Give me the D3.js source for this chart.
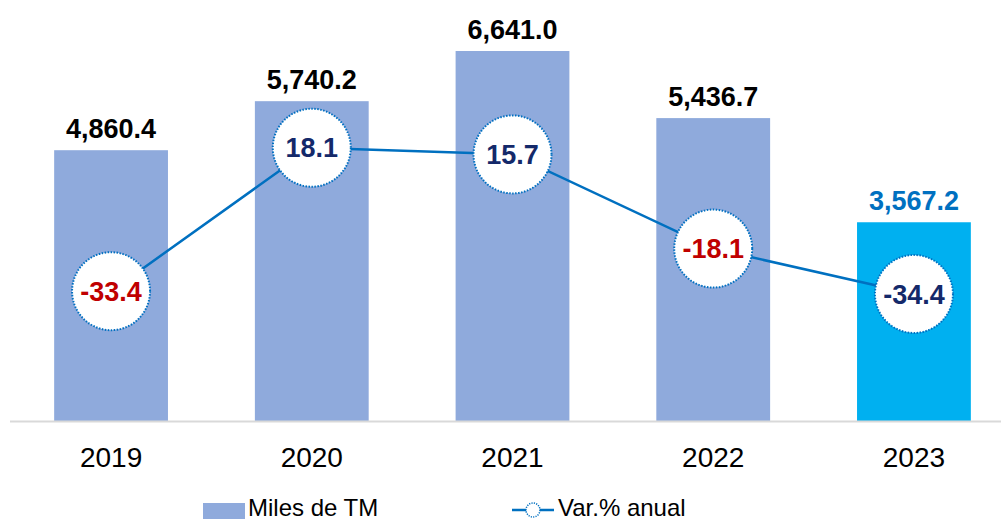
<!DOCTYPE html>
<html>
<head>
<meta charset="utf-8">
<script src="https://cdn.jsdelivr.net/npm/d3@7"></script>
<style>
  html, body { margin: 0; padding: 0; background: #fff; }
  svg { display: block; font-family: Arial, "Liberation Sans", sans-serif; }
</style>
</head>
<body>
<div id="chart"></div>
<script>
// chart data
const years = ['2019', '2020', '2021', '2022', '2023'];
const milesTM = [4860.4, 5740.2, 6641.0, 5436.7, 3567.2];
const varAnual = [-33.4, 18.1, 15.7, -18.1, -34.4];

const width = 1001;
const height = 522;
const baseY = 421;
const topY = 31;

const svg = d3.select('#chart')
  .append('svg')
  .attr('width', width)
  .attr('height', height);

const x = d3.scaleBand().domain(years).range([10, 1015]).paddingInner(0.433).paddingOuter(0.22);
const y = d3.scaleLinear().domain([0, 7000]).range([baseY, topY]);
const y2 = d3.scaleLinear().domain([-80, 60]).range([baseY, topY]);

const fmt = d3.format(',.1f');
const isLast = (i) => i === years.length - 1;

// bars
svg.selectAll('rect.bar')
  .data(milesTM)
  .join('rect')
  .attr('class', 'bar')
  .attr('x', (d, i) => x(years[i]))
  .attr('y', d => y(d))
  .attr('width', x.bandwidth())
  .attr('height', d => y(0) - y(d))
  .attr('fill', (d, i) => isLast(i) ? '#00B0F0' : '#8FAADC');

// axis line
svg.append('line')
  .attr('x1', 10).attr('x2', width)
  .attr('y1', baseY + 0.5).attr('y2', baseY + 0.5)
  .attr('stroke', '#D9D9D9')
  .attr('stroke-width', 2);

// year labels
const xAxis = svg.append('g')
  .attr('transform', `translate(0, ${baseY})`)
  .call(d3.axisBottom(x).tickSize(0).tickPadding(0));
xAxis.select('.domain').remove();
xAxis.selectAll('text')
  .attr('dy', 0)
  .attr('y', 46)
  .attr('fill', '#000')
  .attr('font-size', '28px')
  .attr('font-family', 'Arial, "Liberation Sans", sans-serif');

// bar value labels
svg.selectAll('text.val')
  .data(milesTM)
  .join('text')
  .attr('class', 'val')
  .attr('x', (d, i) => x(years[i]) + x.bandwidth() / 2)
  .attr('y', d => y(d) - 12)
  .attr('text-anchor', 'middle')
  .attr('font-size', '27px')
  .attr('font-weight', 'bold')
  .attr('fill', (d, i) => isLast(i) ? '#0070C0' : '#000')
  .text(d => fmt(d));

// variation line
const cx = (i) => x(years[i]) + x.bandwidth() / 2;
const line = d3.line()
  .x((d, i) => cx(i))
  .y(d => y2(d));

svg.append('path')
  .datum(varAnual)
  .attr('fill', 'none')
  .attr('stroke', '#0070C0')
  .attr('stroke-width', 2.5)
  .attr('d', line);

// circle markers with labels
const marks = svg.selectAll('g.mk')
  .data(varAnual)
  .join('g')
  .attr('class', 'mk')
  .attr('transform', (d, i) => `translate(${cx(i)}, ${y2(d)})`);

marks.append('circle')
  .attr('r', 39)
  .attr('fill', '#fff')
  .attr('stroke', '#0070C0')
  .attr('stroke-width', 2)
  .attr('stroke-dasharray', '1.5,1.5');

marks.append('text')
  .attr('text-anchor', 'middle')
  .attr('dy', '0.36em')
  .attr('font-size', '27px')
  .attr('font-weight', 'bold')
  .attr('fill', (d, i) => (d < 0 && !isLast(i)) ? '#C00000' : '#14296A')
  .text(d => d.toFixed(1));

// legend
const lg = svg.append('g');
lg.append('rect')
  .attr('x', 203).attr('y', 503)
  .attr('width', 42).attr('height', 16)
  .attr('fill', '#8FAADC');
lg.append('text')
  .attr('x', 248).attr('y', 516)
  .attr('font-size', '24px')
  .attr('fill', '#000')
  .text('Miles de TM');

lg.append('line')
  .attr('x1', 512).attr('x2', 554)
  .attr('y1', 510).attr('y2', 510)
  .attr('stroke', '#0070C0')
  .attr('stroke-width', 2.5);
lg.append('circle')
  .attr('cx', 533).attr('cy', 510)
  .attr('r', 7)
  .attr('fill', '#fff')
  .attr('stroke', '#0070C0')
  .attr('stroke-width', 1.5)
  .attr('stroke-dasharray', '1.2,1.2');
lg.append('text')
  .attr('x', 558).attr('y', 516)
  .attr('font-size', '24px')
  .attr('fill', '#000')
  .text('Var.% anual');
</script>
</body>
</html>
